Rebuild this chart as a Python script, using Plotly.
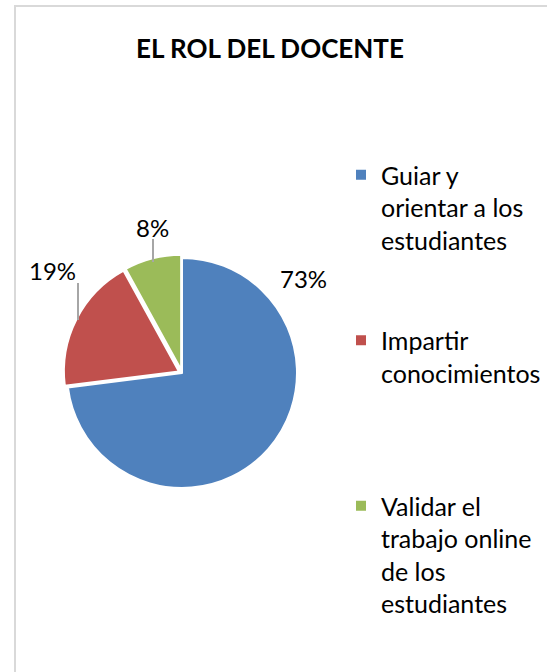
import plotly.graph_objects as go

labels = ["Guiar y orientar a los estudiantes", "Impartir conocimientos", "Validar el trabajo online de los estudiantes"]
legend_text = ["Guiar y<br>orientar a los<br>estudiantes<br> <br> ",
               "Impartir<br>conocimientos<br> <br> <br> ",
               "Validar el<br>trabajo online<br>de los<br>estudiantes"]
values = [73, 19, 8]
pct_labels = ["73%", "19%", "8%"]
colors = ["#4F81BD", "#C0504D", "#9BBB59"]
pulls = [0, 0.03, 0.03]

W, H = 547, 672
FONT = "Lato"

# pie geometry (pixels)
cx, cy, r = 182, 373, 115
rr = r * (1 + max(pulls))
dom_x = [(cx - rr) / W, (cx + rr) / W]
dom_y = [1 - (cy + rr) / H, 1 - (cy - rr) / H]

fig = go.Figure(go.Pie(
    labels=legend_text,
    values=values,
    sort=False,
    direction="clockwise",
    rotation=0,
    pull=pulls,
    marker=dict(colors=colors, line=dict(color="white", width=2)),
    textinfo="none",
    hoverinfo="label+percent",
    domain=dict(x=dom_x, y=dom_y),
))

# data labels (positions of Excel's best-fit labels)
label_pos = [(303, 278), (52, 270), (152, 227)]
for txt, (lx, ly) in zip(pct_labels, label_pos):
    fig.add_annotation(x=lx / W, y=1 - ly / H, xref="paper", yref="paper",
                       text=txt, showarrow=False, xanchor="center", yanchor="middle",
                       font=dict(family=FONT, size=24, color="#000000"))

# leader lines
leaders = [((78, 283), (78, 320)), ((153, 239), (153, 262))]
for (x0, y0), (x1, y1) in leaders:
    fig.add_shape(type="line", xref="paper", yref="paper",
                  x0=x0 / W, y0=1 - y0 / H, x1=x1 / W, y1=1 - y1 / H,
                  line=dict(color="#A6A6A6", width=2))

# chart border (left and top edges are visible)
fig.add_shape(type="rect", xref="paper", yref="paper",
              x0=15 / W, y0=-0.2, x1=1.2, y1=1 - 6 / H,
              line=dict(color="#D9D9D9", width=2), layer="below")

fig.update_layout(
    width=W, height=H,
    margin=dict(l=0, r=0, t=0, b=0),
    paper_bgcolor="white",
    plot_bgcolor="white",
    title=dict(text="<b>EL ROL DEL DOCENTE</b>", x=270 / W, xanchor="center",
               y=1 - 49 / H, yanchor="middle",
               font=dict(family=FONT, size=26, color="#000000")),
    showlegend=True,
    legend=dict(x=341 / W, xanchor="left", y=1 - 152 / H, yanchor="top",
                valign="top", font=dict(family=FONT, size=25, color="#000000"),
                bgcolor="rgba(0,0,0,0)", itemclick=False, itemdoubleclick=False),
)

fig.write_html("out.html",
               config={"displayModeBar": False},
               post_script="document.body.style.margin='0';document.body.style.overflow='hidden';")
